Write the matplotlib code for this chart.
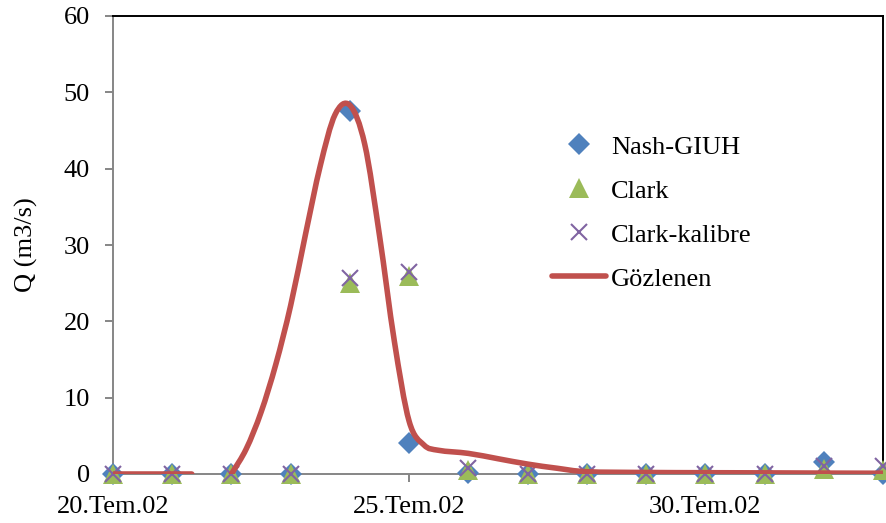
import numpy as np
import matplotlib
matplotlib.use("Agg")
import matplotlib.pyplot as plt
from matplotlib.path import Path
from matplotlib.patches import PathPatch
from matplotlib.lines import Line2D

plt.rcParams['font.family'] = ['Liberation Serif', 'DejaVu Serif']

# Days counted from 20 July 2002
model_days = list(range(14))
nash_giuh = [0, 0, 0, 0, 47.5, 4.0, 0.1, 0, 0, 0, 0, 0, 1.6, 0.0]
clark = [0, 0, 0, 0, 25.0, 25.9, 0.5, 0, 0, 0, 0, 0, 0.6, 0.5]
clark_kalibre = [0, 0, 0, 0, 25.7, 26.5, 0.8, 0, 0, 0, 0, 0, 1.1, 1.0]

# Observed discharge (two records separated by a data gap)
obs_days_a = [0.0, 1.0, 1.33]
obs_q_a = [0.0, 0.0, 0.0]
obs_days_b = [2.0, 2.25, 2.5, 2.75, 3.0, 3.25, 3.5, 3.75, 4.0, 4.25, 4.5,
              4.75, 5.0, 5.25, 5.5, 6.0, 6.5, 7.0, 7.5, 8.0, 9.0, 10.0,
              11.0, 12.0, 13.0]
obs_q_b = [0.0, 3.3, 8.1, 14.4, 22.1, 31.4, 40.4, 47.1, 48.3, 43.2, 31.2,
           17.4, 6.9, 3.8, 3.1, 2.7, 2.0, 1.3, 0.75, 0.3, 0.2, 0.17,
           0.15, 0.12, 0.1]

tick_days = [0, 5, 10]
tick_labels = ["20.Tem.02", "25.Tem.02", "30.Tem.02"]

C_NASH = "#4F81BD"
C_CLARK = "#9BBB59"
C_KAL = "#8064A2"
C_OBS = "#C0504D"
GREY = "#868686"
FS = 19


def smooth_path(x, y):
    """Catmull-Rom style smoothed curve through the points as cubic Beziers."""
    pts = np.column_stack([x, y]).astype(float)
    first = 2 * pts[0] - pts[1]
    last = 2 * pts[-1] - pts[-2]
    ext = np.vstack([first, pts, last])
    verts = [pts[0]]
    codes = [Path.MOVETO]
    for i in range(len(pts) - 1):
        p0, p1, p2, p3 = ext[i], ext[i + 1], ext[i + 2], ext[i + 3]
        c1 = p1 + (p2 - p0) / 6.0
        c2 = p2 - (p3 - p1) / 6.0
        verts += [c1, c2, p2]
        codes += [Path.CURVE4] * 3
    return Path(np.array(verts), codes)


fig = plt.figure(figsize=(8.87, 5.23), dpi=100)
ax = fig.add_axes([113 / 887, 1 - 474 / 523, 770 / 887, 458 / 523])

MS_D, MS_T, MS_X = 11, 14, 12

ax.plot(model_days, nash_giuh, linestyle="none", marker="D", markersize=MS_D,
        color=C_NASH, markeredgewidth=0, clip_on=False, zorder=3)
ax.plot(model_days, clark, linestyle="none", marker="^", markersize=MS_T,
        color=C_CLARK, markeredgewidth=0, clip_on=False, zorder=4)
ax.plot(model_days, clark_kalibre, linestyle="none", marker="x", markersize=MS_X,
        color=C_KAL, markeredgewidth=1.5, clip_on=False, zorder=5)

for xs, ys in ((obs_days_a, obs_q_a), (obs_days_b, obs_q_b)):
    ax.add_patch(PathPatch(smooth_path(xs, ys), fill=False, edgecolor=C_OBS,
                           linewidth=4.0, capstyle="round", joinstyle="round",
                           zorder=6))

ax.set_xlim(0, 13)
ax.set_ylim(0, 60)
ax.set_yticks(range(0, 61, 10))
ax.set_xticks(tick_days)
ax.set_xticklabels(tick_labels)

for side in ("left", "bottom"):
    ax.spines[side].set_color(GREY)
    ax.spines[side].set_linewidth(1.4)
for side in ("top", "right"):
    ax.spines[side].set_color("black")
    ax.spines[side].set_linewidth(1.4)

ax.tick_params(axis="y", direction="out", length=6, width=1.4, color=GREY,
               labelsize=FS, pad=10.5)
ax.tick_params(axis="x", direction="out", length=6, width=1.4, color=GREY,
               labelsize=FS, pad=10)

ax.set_ylabel("Q (m3/s)", fontsize=FS)
ax.yaxis.set_label_coords(-0.0974, 0.5)

handles = [
    Line2D([], [], linestyle="none", marker="D", markersize=MS_D, color=C_NASH,
           markeredgewidth=0),
    Line2D([], [], linestyle="none", marker="^", markersize=MS_T, color=C_CLARK,
           markeredgewidth=0),
    Line2D([], [], linestyle="none", marker="x", markersize=MS_X, color=C_KAL,
           markeredgewidth=1.5),
    Line2D([], [], color=C_OBS, linewidth=4.0, solid_capstyle="round"),
]
labels = ["Nash-GIUH", "Clark", "Clark-kalibre", "Gözlenen"]
ax.legend(handles, labels, loc="upper left", bbox_to_anchor=(0.570, 0.74),
          frameon=False, fontsize=FS, borderpad=0, borderaxespad=0,
          handlelength=2.05, handletextpad=0.2, labelspacing=0.78)

fig.savefig("out.png", dpi=100)
